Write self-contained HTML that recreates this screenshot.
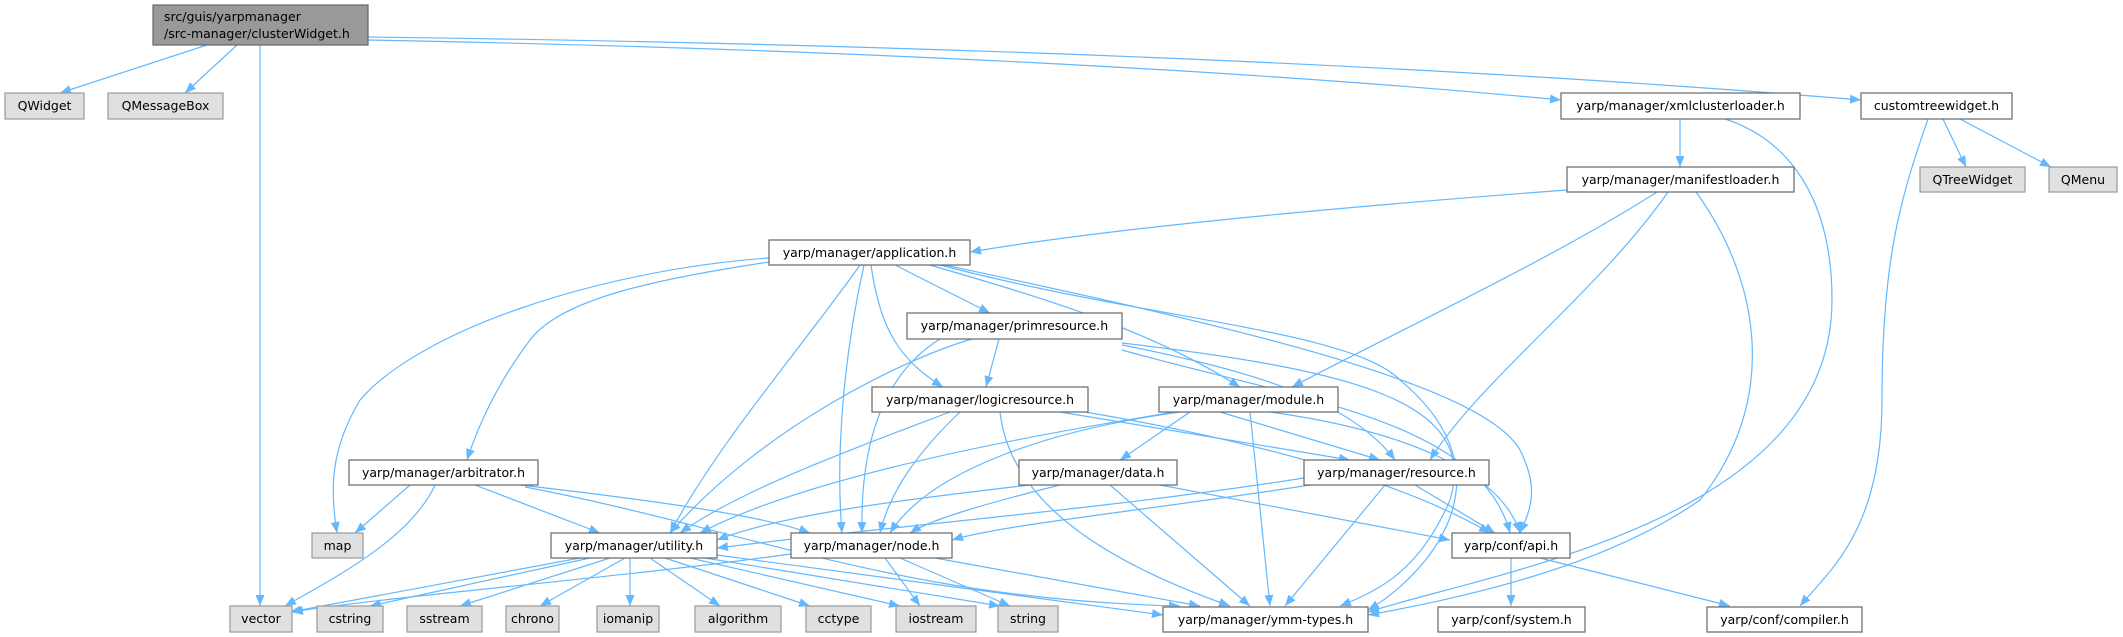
<!DOCTYPE html>
<html><head><meta charset="utf-8"><style>
html,body{margin:0;padding:0;background:#fff;}
svg{display:block;}
text{font-family:"DejaVu Sans","Liberation Sans",sans-serif;font-size:12.5px;fill:#000;}
.n{fill:#fff;stroke:#666;stroke-width:1.2;}
.e{fill:#e0e0e0;stroke:#999;stroke-width:1.2;}
.r{fill:#999;stroke:#666;stroke-width:1.2;}
path.l{fill:none;stroke:#63b8ff;stroke-width:1.2;marker-end:url(#a);}
</style></head><body>
<svg width="2123" height="637" viewBox="0 0 2123 637" xmlns="http://www.w3.org/2000/svg">
<defs><marker id="a" markerUnits="userSpaceOnUse" markerWidth="12" markerHeight="9" refX="11" refY="4.5" orient="auto"><path d="M0,0 L11,4.5 L0,9 z" fill="#63b8ff"/></marker></defs>
<g>
<path class="l" d="M207 45 L60 93"/>
<path class="l" d="M237 45 L185 93"/>
<path class="l" d="M260 45 L260 606"/>
<path class="l" d="M368 40 C900 50, 1300 75, 1561 100"/>
<path class="l" d="M368 37 C1000 45, 1500 70, 1861 100"/>
<path class="l" d="M1680 119 L1680 167"/>
<path class="l" d="M1725 119 C1790 140, 1832 200, 1832 300 C1832 520, 1500 570, 1368 612"/>
<path class="l" d="M1943 119 L1966 167"/>
<path class="l" d="M1960 119 L2051 167"/>
<path class="l" d="M1928 119 C1900 200, 1882 260, 1882 400 C1882 530, 1830 570, 1800 606"/>
<path class="l" d="M1567 190 C1300 210, 1100 230, 970 252"/>
<path class="l" d="M1657 192 C1550 260, 1400 330, 1292 387"/>
<path class="l" d="M1668 192 C1600 290, 1480 380, 1430 460"/>
<path class="l" d="M1696 192 C1760 280, 1780 400, 1700 500 C1600 570, 1450 600, 1368 615"/>
<path class="l" d="M769 258 C600 270, 420 330, 360 400 C330 450, 330 490, 337 533"/>
<path class="l" d="M769 262 C650 280, 560 300, 530 340 C500 380, 480 420, 467 460"/>
<path class="l" d="M860 265 C800 350, 720 440, 670 533"/>
<path class="l" d="M864 265 C845 350, 835 450, 842 533"/>
<path class="l" d="M871 265 C880 330, 900 360, 943 387"/>
<path class="l" d="M895 265 L990 313"/>
<path class="l" d="M930 265 C1050 300, 1150 330, 1240 387"/>
<path class="l" d="M940 265 C1150 320, 1350 330, 1400 380 C1520 480, 1420 580, 1368 610"/>
<path class="l" d="M945 265 C1200 320, 1480 380, 1520 450 C1540 490, 1530 510, 1520 533"/>
<path class="l" d="M999 339 L986 387"/>
<path class="l" d="M972 339 C900 360, 760 430, 670 533"/>
<path class="l" d="M940 339 C890 370, 860 430, 862 533"/>
<path class="l" d="M1122 345 C1250 370, 1350 400, 1395 460"/>
<path class="l" d="M1122 350 C1300 400, 1480 420, 1510 533"/>
<path class="l" d="M1122 343 C1350 370, 1480 400, 1450 500 C1420 570, 1380 590, 1340 606"/>
<path class="l" d="M950 412 C850 450, 740 490, 680 533"/>
<path class="l" d="M960 412 C920 450, 890 490, 880 533"/>
<path class="l" d="M1000 412 C1010 500, 1100 560, 1230 606"/>
<path class="l" d="M1060 412 L1350 460"/>
<path class="l" d="M1085 412 C1250 440, 1400 480, 1490 533"/>
<path class="l" d="M1190 412 L1120 460"/>
<path class="l" d="M1220 412 L1380 460"/>
<path class="l" d="M1175 412 C1000 440, 800 480, 700 533"/>
<path class="l" d="M1180 412 C1050 430, 930 470, 890 533"/>
<path class="l" d="M1250 412 L1270 606"/>
<path class="l" d="M1270 412 C1400 430, 1500 470, 1520 533"/>
<path class="l" d="M410 485 L355 533"/>
<path class="l" d="M435 485 C410 540, 330 580, 285 606"/>
<path class="l" d="M475 485 L600 533"/>
<path class="l" d="M520 485 C650 500, 760 515, 810 533"/>
<path class="l" d="M525 487 C750 530, 900 600, 1180 606"/>
<path class="l" d="M1030 485 C900 500, 780 515, 717 540"/>
<path class="l" d="M1060 485 C980 505, 930 520, 910 533"/>
<path class="l" d="M1160 485 L1450 540"/>
<path class="l" d="M1110 485 L1250 606"/>
<path class="l" d="M1304 478 C1100 510, 900 525, 717 548"/>
<path class="l" d="M1310 485 C1150 510, 1000 525, 952 540"/>
<path class="l" d="M1415 485 L1495 533"/>
<path class="l" d="M1385 485 L1285 606"/>
<path class="l" d="M580 558 L290 612"/>
<path class="l" d="M590 558 L370 606"/>
<path class="l" d="M610 558 L460 606"/>
<path class="l" d="M625 558 L540 606"/>
<path class="l" d="M630 558 L630 606"/>
<path class="l" d="M650 558 L720 606"/>
<path class="l" d="M665 558 L810 606"/>
<path class="l" d="M690 558 L900 606"/>
<path class="l" d="M705 558 L1000 606"/>
<path class="l" d="M717 555 C900 580, 1050 600, 1163 615"/>
<path class="l" d="M791 554 C600 580, 400 595, 292 612"/>
<path class="l" d="M885 558 L920 606"/>
<path class="l" d="M900 558 L1010 606"/>
<path class="l" d="M935 558 L1200 606"/>
<path class="l" d="M1511 558 L1511 606"/>
<path class="l" d="M1540 558 L1730 606"/>
</g>
<g>
<rect class="r" x="153" y="5" width="215" height="40"/>
<text x="164" y="21">src/guis/yarpmanager</text>
<text x="164" y="38">/src-manager/clusterWidget.h</text>

<rect class="e" x="5" y="93" width="79" height="26"/><text x="44.5" y="110" text-anchor="middle">QWidget</text>
<rect class="e" x="108" y="93" width="115" height="26"/><text x="165.5" y="110" text-anchor="middle">QMessageBox</text>
<rect class="n" x="1561" y="93" width="239" height="26"/><text x="1680.5" y="110" text-anchor="middle">yarp/manager/xmlclusterloader.h</text>
<rect class="n" x="1861" y="93" width="151" height="26"/><text x="1936.5" y="110" text-anchor="middle">customtreewidget.h</text>
<rect class="n" x="1567" y="167" width="227" height="25"/><text x="1680.5" y="184" text-anchor="middle">yarp/manager/manifestloader.h</text>
<rect class="e" x="1920" y="167" width="105" height="25"/><text x="1972.5" y="184" text-anchor="middle">QTreeWidget</text>
<rect class="e" x="2049" y="167" width="68" height="25"/><text x="2083" y="184" text-anchor="middle">QMenu</text>
<rect class="n" x="769" y="240" width="201" height="25"/><text x="869.5" y="257" text-anchor="middle">yarp/manager/application.h</text>
<rect class="n" x="907" y="313" width="215" height="26"/><text x="1014.5" y="330" text-anchor="middle">yarp/manager/primresource.h</text>
<rect class="n" x="872" y="387" width="216" height="25"/><text x="980" y="404" text-anchor="middle">yarp/manager/logicresource.h</text>
<rect class="n" x="1159" y="387" width="179" height="25"/><text x="1248.5" y="404" text-anchor="middle">yarp/manager/module.h</text>
<rect class="n" x="349" y="460" width="189" height="25"/><text x="443.5" y="477" text-anchor="middle">yarp/manager/arbitrator.h</text>
<rect class="n" x="1019" y="460" width="158" height="25"/><text x="1098" y="477" text-anchor="middle">yarp/manager/data.h</text>
<rect class="n" x="1304" y="460" width="185" height="25"/><text x="1396.5" y="477" text-anchor="middle">yarp/manager/resource.h</text>
<rect class="e" x="312" y="533" width="51" height="25"/><text x="337.5" y="550" text-anchor="middle">map</text>
<rect class="n" x="551" y="533" width="166" height="25"/><text x="634" y="550" text-anchor="middle">yarp/manager/utility.h</text>
<rect class="n" x="791" y="533" width="161" height="25"/><text x="871.5" y="550" text-anchor="middle">yarp/manager/node.h</text>
<rect class="n" x="1452" y="533" width="118" height="25"/><text x="1511" y="550" text-anchor="middle">yarp/conf/api.h</text>

<rect class="e" x="230" y="606" width="62" height="26"/><text x="261" y="623" text-anchor="middle">vector</text>
<rect class="e" x="317" y="606" width="66" height="26"/><text x="350" y="623" text-anchor="middle">cstring</text>
<rect class="e" x="407" y="606" width="75" height="26"/><text x="444.5" y="623" text-anchor="middle">sstream</text>
<rect class="e" x="506" y="606" width="53" height="26"/><text x="532.5" y="623" text-anchor="middle">chrono</text>
<rect class="e" x="597" y="606" width="62" height="26"/><text x="628" y="623" text-anchor="middle">iomanip</text>
<rect class="e" x="695" y="606" width="86" height="26"/><text x="738" y="623" text-anchor="middle">algorithm</text>
<rect class="e" x="806" y="606" width="65" height="26"/><text x="838.5" y="623" text-anchor="middle">cctype</text>
<rect class="e" x="896" y="606" width="80" height="26"/><text x="936" y="623" text-anchor="middle">iostream</text>
<rect class="e" x="998" y="606" width="60" height="26"/><text x="1028" y="623" text-anchor="middle">string</text>
<rect class="n" x="1163" y="607" width="205" height="25"/><text x="1265.5" y="624" text-anchor="middle">yarp/manager/ymm-types.h</text>
<rect class="n" x="1438" y="607" width="147" height="25"/><text x="1511.5" y="624" text-anchor="middle">yarp/conf/system.h</text>
<rect class="n" x="1707" y="607" width="155" height="25"/><text x="1784.5" y="624" text-anchor="middle">yarp/conf/compiler.h</text>
</g>
</svg>
</body></html>
